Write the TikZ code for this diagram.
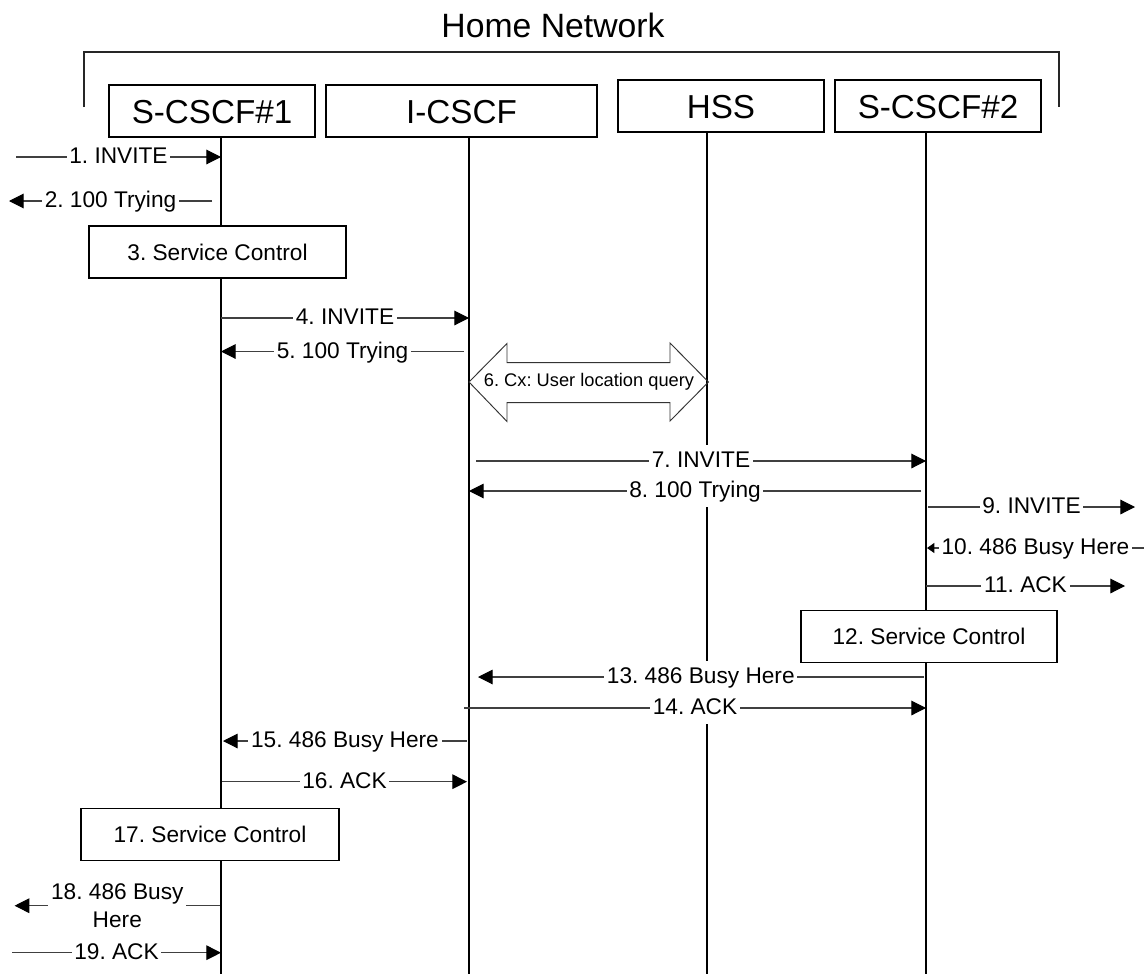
\documentclass[tikz,border=0pt]{standalone}
\usepackage{fontspec}
\setmainfont{Liberation Sans}
\usetikzlibrary{arrows.meta}
\newcommand\mmsg[6][]{%
  \coordinate (#2a) at (#3,#5);
  \coordinate (#2b) at (#4,#5);
  \draw[msg,#1] (#2a) -- node[lbl]{#6} (#2b);}
\begin{document}
\frenchspacing
\begin{tikzpicture}[x=0.75pt,y=-0.75pt,
  title/.style={inner sep=0pt, font=\fontsize{25.3}{30}\selectfont},
  box/.style={draw=black, line width=1.3pt, fill=white, inner sep=0pt,
    minimum height=52*0.75pt, text height=18pt, text depth=0pt,
    font=\fontsize{24.9}{29}\selectfont},
  scbox/.style={draw=black, line width=1.2pt, fill=white, inner sep=0pt,
    minimum height=52*0.75pt, font=\fontsize{17}{20}\selectfont},
  bracket/.style={line width=1.2pt, draw=black!85},
  life/.style={line width=1.4pt, draw=black},
  msg/.style={line width=0.8pt, draw=black!75,
    -{Triangle[length=11pt,width=11pt,color=black]}},
  smalltip/.style={-{Triangle[length=5.5pt,width=7.5pt,color=black]}},
  lbl/.style={fill=white, inner xsep=2pt, inner ysep=3pt, text height=14pt,
    text depth=4pt, font=\fontsize{17}{20.5}\selectfont, text=black},
  lbltwo/.style={fill=white, inner xsep=2pt, inner ysep=1pt, align=center,
    font=\fontsize{17}{21}\selectfont, text=black},
  dbl/.style={line width=0.7pt, draw=black!80},
  cx/.style={inner sep=0pt, font=\fontsize{13.7}{16}\selectfont}]
\fill[white] (0,0) rectangle (1144,974);
\useasboundingbox (0,0) rectangle (1144,974);

% title and bracket
\node[title] (title) at (553,25) {Home Network};
\coordinate (brL) at (84,107);
\coordinate (brLt) at (84,52);
\coordinate (brRt) at (1059,52);
\coordinate (brR) at (1059,107);
\draw[bracket] (brL) -- (brLt) -- (brRt) -- (brR);

% entities
\node[box, minimum width=206*0.75pt] (s1) at (212,111) {S-CSCF\#1};
\node[box, minimum width=271*0.75pt] (ic) at (461.5,111) {I-CSCF};
\node[box, minimum width=206*0.75pt] (hss) at (721,106) {HSS};
\node[box, minimum width=206*0.75pt] (s2) at (938,106) {S-CSCF\#2};

% lifelines
\coordinate (b1) at (221,974);
\coordinate (b2) at (469,974);
\coordinate (b3) at (707,974);
\coordinate (b4) at (926,974);
\draw[life] (s1.south -| b1) -- (b1);
\draw[life] (ic.south -| b2) -- (b2);
\draw[life] (hss.south -| b3) -- (b3);
\draw[life] (s2.south -| b4) -- (b4);

% service control boxes
\node[scbox, minimum width=257*0.75pt] (sc3) at (217.5,252) {3. Service Control};
\node[scbox, minimum width=256.5*0.75pt] (sc12) at (929,636.4) {12. Service Control};
\node[scbox, minimum width=258*0.75pt] (sc17) at (210,834.5) {17. Service Control};

% messages
\mmsg{m1}{16}{221}{157}{1. INVITE}
\mmsg{m2}{212}{9}{201}{2. 100 Trying}
\mmsg{m4}{221}{469}{318}{4. INVITE}
\mmsg{m5}{464}{221}{351.5}{5. 100 Trying}

% double arrow 6
\draw[dbl] (469,382) -- (507,343.5) -- (507,362.7) -- (670,362.7) -- (670,343)
  -- (708.5,382) -- (670,421) -- (670,402.7) -- (507,402.7) -- (507,421.5) -- cycle;
\node[cx] (cx) at (589,382) {6. Cx: User location query};

\mmsg{m7}{476}{926}{461}{7. INVITE}
\mmsg{m8}{921}{469}{491}{8. 100 Trying}
\mmsg{m9}{928}{1135}{507}{9. INVITE}
\mmsg[smalltip]{m10}{1144}{927}{548}{10. 486 Busy Here}
\mmsg{m11}{926}{1125}{586}{11. ACK}
\mmsg{m13}{923.6}{478}{677}{13. 486 Busy Here}
\mmsg{m14}{464}{926}{708}{14. ACK}
\mmsg{m15}{467}{223}{741}{15. 486 Busy Here}
\mmsg{m16}{222}{467}{781.7}{16. ACK}

\coordinate (m18a) at (220,905.7);
\coordinate (m18b) at (14.6,905.7);
\draw[msg] (m18a) -- node[lbltwo]{18. 486 Busy\\Here} (m18b);

\mmsg{m19}{12}{221}{952.7}{19. ACK}
\end{tikzpicture}
\end{document}
